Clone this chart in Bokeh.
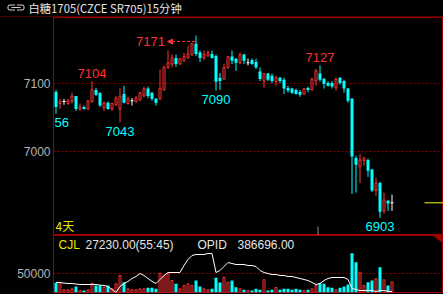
from bokeh.plotting import figure
from bokeh.layouts import column
from bokeh.models import Range1d, FixedTicker, NumeralTickFormatter, Arrow, NormalHead
from bokeh.core.properties import value
from bokeh.embed import file_html
from bokeh.resources import INLINE

# ---------------- data ----------------
title_text = "白糖1705(CZCE SR705)15分钟"
period_label = "4天"
vol_name = "CJL"
vol_reading = "27230.00(55:45)"
oi_name = "OPID"
oi_reading = "386696.00"
price_ticks = [7000, 7100]
vol_ticks = [50000]

open_ = [7088, 7071, 7074, 7071, 7074, 7082, 7062, 7066, 7063, 7074,
         7091, 7087, 7065, 7072, 7063, 7069, 7063, 7085, 7071, 7075,
         7074, 7076, 7082, 7093, 7087, 7078, 7078, 7091, 7124, 7129,
         7138, 7129, 7134, 7138, 7143, 7159, 7146, 7138, 7141, 7144,
         7141, 7109, 7107, 7124, 7140, 7137, 7131, 7143, 7131, 7135,
         7132, 7118, 7104, 7115, 7112, 7103, 7109, 7106, 7094, 7093,
         7091, 7088, 7085, 7094, 7091, 7104, 7115, 7107, 7101, 7101,
         7094, 7109, 7104, 7093, 7078, 6991, 6978, 6987, 6988, 6974,
         6943, 6954, 6913, 6928, 6925]
high = [7091, 7078, 7078, 7078, 7087, 7082, 7071, 7068, 7076, 7104,
        7094, 7087, 7074, 7074, 7072, 7082, 7094, 7097, 7081, 7079,
        7082, 7088, 7096, 7096, 7088, 7079, 7121, 7127, 7149, 7143,
        7143, 7138, 7146, 7156, 7160, 7171, 7149, 7149, 7149, 7149,
        7143, 7116, 7129, 7141, 7149, 7138, 7146, 7144, 7137, 7137,
        7137, 7124, 7116, 7116, 7115, 7112, 7110, 7109, 7097, 7094,
        7093, 7091, 7094, 7096, 7109, 7122, 7127, 7109, 7104, 7104,
        7109, 7110, 7106, 7094, 7079, 6994, 6997, 6993, 6990, 6975,
        6962, 6956, 6940, 6929, 6937]
low = [7056, 7063, 7069, 7069, 7071, 7060, 7060, 7062, 7062, 7072,
       7082, 7066, 7060, 7062, 7060, 7068, 7043, 7071, 7069, 7068,
       7072, 7075, 7081, 7079, 7075, 7068, 7076, 7090, 7122, 7124,
       7125, 7128, 7132, 7137, 7141, 7141, 7132, 7135, 7140, 7137,
       7090, 7091, 7106, 7122, 7129, 7119, 7129, 7129, 7127, 7128,
       7122, 7104, 7094, 7104, 7101, 7097, 7101, 7085, 7087, 7085,
       7084, 7081, 7084, 7088, 7090, 7097, 7103, 7093, 7096, 7093,
       7090, 7099, 7087, 7072, 6938, 6940, 6954, 6979, 6963, 6941,
       6935, 6903, 6909, 6913, 6913]
close = [7066, 7074, 7074, 7075, 7082, 7063, 7066, 7063, 7075, 7091,
         7084, 7068, 7072, 7063, 7071, 7079, 7082, 7072, 7078, 7075,
         7079, 7087, 7093, 7082, 7078, 7072, 7093, 7124, 7131, 7138,
         7129, 7137, 7140, 7144, 7159, 7144, 7138, 7143, 7146, 7138,
         7103, 7104, 7124, 7140, 7134, 7131, 7143, 7134, 7131, 7129,
         7124, 7107, 7115, 7106, 7104, 7109, 7104, 7093, 7090, 7087,
         7085, 7084, 7093, 7091, 7107, 7119, 7106, 7100, 7097, 7096,
         7107, 7101, 7093, 7075, 6993, 6981, 6988, 6990, 6972, 6943,
         6954, 6912, 6929, 6924, 6925]
volume = [24900, 22300, 6900, 6900, 9500, 15400, 5100, 5100, 6900, 23800,
          17900, 17900, 13600, 17900, 9500, 22300, 43600, 26400, 9500, 6900,
          6900, 9500, 9500, 12100, 12100, 9500, 49500, 43600, 48000, 30800,
          22300, 9500, 17900, 22300, 17900, 30800, 15400, 9500, 6900, 9500,
          37700, 25600, 39200, 26400, 30800, 13600, 9500, 6900, 5100, 5100,
          9500, 6900, 32600, 5100, 6900, 12800, 6900, 9500, 9500, 6900,
          9500, 6900, 5100, 6900, 9500, 17900, 23800, 22300, 13600, 12100,
          6900, 12100, 15400, 20500, 100800, 77700, 52000, 17900, 26400, 30800,
          35100, 64900, 32600, 17900, 27230]
open_interest = [391200, 391200, 390900, 390700, 390700, 390400, 390200, 390200, 390200, 390200,
                 390200, 389900, 389700, 389200, 387700, 386200, 389200, 390700, 391700, 393200,
                 394200, 395700, 394700, 393200, 391700, 390700, 392700, 394700, 396200, 396200,
                 396200, 396200, 399700, 402700, 404700, 405200, 405200, 405200, 405700, 405700,
                 396200, 397200, 399200, 401200, 400700, 400200, 400200, 400200, 399700, 399700,
                 399200, 397200, 396200, 395700, 395200, 395200, 394700, 394700, 394200, 394200,
                 393700, 393200, 392700, 392200, 391200, 390200, 390700, 392200, 393200, 393700,
                 393700, 393700, 393700, 392700, 388200, 387700, 387200, 387200, 387200, 387200,
                 386700, 387200, 387200, 386700, 386696]
marked_highs = [10, 36, 67]
marked_lows = [1, 17, 41, 82]
session_break = 66.5

# ---------------- style ----------------
BG = "#000000"
UP = "#ff3232"
DN = "#00ffff"
DJ = "#ffffff"
FRAME = "#a00000"
GRID = "#900000"
AXIS_TXT = "#b4b4b4"
TXT = "#e6e6e6"
YEL = "#e8e800"
FONT = value("Liberation Sans")
CJK = value("Noto Sans CJK SC")

W = 443
LEFT = 53
STEP = 4.0
X0 = 0.375
X1 = X0 + (W - LEFT) / STEP
DIGIT_W = 7.2  # approx px per digit at 13px

n = len(close)
idx = list(range(1, n + 1))


def no_align(fig):
    if hasattr(fig, "frame_align"):
        fig.frame_align = False


# ---------------- title bar ----------------
t = figure(width=W, height=17, x_range=Range1d(0, W), y_range=Range1d(17, 0),
           min_border=0, min_border_left=0, min_border_right=0, min_border_top=0, min_border_bottom=0,
           toolbar_location=None, output_backend="svg",
           background_fill_color=BG, border_fill_color=BG, outline_line_color=None,
           x_axis_location=None, y_axis_location=None)
no_align(t)
t.grid.visible = False
t.segment(x0=[0], y0=[16.5], x1=[W], y1=[16.5], line_color=FRAME, line_width=1)
t.multi_line(xs=[[14.5, 8.5, 7.5, 7.5, 8.5, 14.5], [16.5, 22.5, 23.5, 23.5, 22.5, 16.5], [11, 20]],
             ys=[[4.5, 4.5, 5.5, 8.5, 9.5, 9.5], [4.5, 4.5, 5.5, 8.5, 9.5, 9.5], [7, 7]],
             line_color="#d0d0d0", line_width=1)
t.text(x=[28], y=[7], text=[title_text], text_font=CJK, text_font_size="11.3px",
       text_color=TXT, text_baseline="middle", text_align="left")

# ---------------- price panel ----------------
MAIN_H = 218
Y0, Y1 = 6876.9, 7197.5
ppx = (Y1 - Y0) / MAIN_H  # price per pixel

p = figure(width=W, height=MAIN_H, x_range=Range1d(X0, X1), y_range=Range1d(Y0, Y1),
           min_border_left=LEFT, min_border_right=0, min_border_top=0, min_border_bottom=0,
           toolbar_location=None, output_backend="svg",
           background_fill_color=BG, border_fill_color=BG,
           outline_line_color=FRAME, outline_line_width=1,
           x_axis_location=None, y_axis_location="left")
no_align(p)
p.xgrid.visible = False
p.yaxis.ticker = FixedTicker(ticks=price_ticks)
p.yaxis.axis_line_color = None
p.yaxis.major_tick_line_color = None
p.yaxis.minor_tick_line_color = None
p.yaxis.major_tick_out = 0
p.yaxis.major_label_standoff = 3
p.yaxis.major_label_text_color = AXIS_TXT
p.yaxis.major_label_text_font = "Liberation Sans"
p.yaxis.major_label_text_font_size = "12px"
p.ygrid.grid_line_color = GRID
p.ygrid.grid_line_dash = "2 2"
p.ygrid.grid_line_width = 1

kind = ["up" if c > o else ("dn" if c < o else "dj") for o, c in zip(open_, close)]
wick_col = [UP if k == "up" else (DN if k == "dn" else DJ) for k in kind]
p.segment(x0=idx, y0=high, x1=idx, y1=low, line_color=wick_col, line_width=1)

dn_i = [i for i, k in zip(idx, kind) if k == "dn"]
p.vbar(x=dn_i, width=0.75, top=[open_[i - 1] for i in dn_i], bottom=[close[i - 1] for i in dn_i],
       fill_color=DN, line_color=None)
up_i = [i for i, k in zip(idx, kind) if k == "up"]
p.vbar(x=up_i, width=0.5, top=[close[i - 1] for i in up_i], bottom=[open_[i - 1] for i in up_i],
       fill_color=BG, line_color=UP, line_width=1)
dj_i = [i for i, k in zip(idx, kind) if k == "dj"]
p.segment(x0=[i - 0.375 for i in dj_i], x1=[i + 0.375 for i in dj_i],
          y0=[close[i - 1] for i in dj_i], y1=[close[i - 1] for i in dj_i], line_color=DJ, line_width=1)

# extreme labels (a label running past the left frame edge shows only its visible digits)
top_bar = max(marked_highs, key=lambda i: high[i - 1])
hi_plain = [i for i in marked_highs if i != top_bar]
p.text(x=hi_plain, y=[high[i - 1] for i in hi_plain], text=[str(high[i - 1]) for i in hi_plain],
       text_font=FONT, text_font_size="13px", text_color=UP, text_align="center",
       text_baseline="middle", y_offset=-8)
for i in marked_lows:
    s = str(low[i - 1])
    left_px = (i - X0) * STEP - len(s) * DIGIT_W / 2
    if left_px < 0:
        hidden = int(-left_px // DIGIT_W) + 1
        p.text(x=[X0], y=[low[i - 1]], text=[s[hidden:]], text_font=FONT, text_font_size="13px",
               text_color=DN, text_align="left", text_baseline="middle", x_offset=1, y_offset=9)
    else:
        p.text(x=[i], y=[low[i - 1]], text=[s], text_font=FONT, text_font_size="13px",
               text_color=DN, text_align="center", text_baseline="middle", y_offset=9)
top_val = high[top_bar - 1]
p.text(x=[top_bar], y=[top_val], text=[str(top_val)], text_font=FONT, text_font_size="13px",
       text_color=UP, text_align="right", text_baseline="middle", x_offset=-31, y_offset=6)
ya = top_val - 6 * ppx
p.add_layout(Arrow(end=NormalHead(size=5, fill_color=UP, line_color=UP, line_width=1),
                   x_start=top_bar - 0.25, y_start=ya, x_end=top_bar - 7.125, y_end=ya,
                   line_color=UP, line_width=1, line_dash="3 2"))

# last price marker and session break
p.segment(x0=[X1 - 19 / STEP], x1=[X1], y0=[close[-1]], y1=[close[-1]], line_color="#ffff00", line_width=1)
p.segment(x0=[session_break], x1=[session_break], y0=[Y0], y1=[Y0 + 9 * ppx], line_color="#909090", line_width=1)

p.text(x=[X0], y=[Y0], text=[period_label], text_font=CJK, text_font_size="12px",
       text_color=YEL, text_align="left", text_baseline="middle", x_offset=2, y_offset=-10)

# ---------------- volume panel ----------------
VOL_H = 59
VTOP = 146154
vpx = VTOP / 57.0
v = figure(width=W, height=VOL_H, x_range=p.x_range, y_range=Range1d(0, VTOP),
           min_border_left=LEFT, min_border_right=0, min_border_top=0, min_border_bottom=2,
           toolbar_location=None, output_backend="svg",
           background_fill_color=BG, border_fill_color=BG,
           outline_line_color=FRAME, outline_line_width=1,
           x_axis_location=None, y_axis_location="left")
no_align(v)
v.extra_y_ranges = {"oi": Range1d(386196, 414696)}
v.xgrid.visible = False
v.yaxis.ticker = FixedTicker(ticks=vol_ticks)
v.yaxis.formatter = NumeralTickFormatter(format="0")
v.yaxis.axis_line_color = None
v.yaxis.major_tick_line_color = None
v.yaxis.minor_tick_line_color = None
v.yaxis.major_tick_out = 0
v.yaxis.major_label_standoff = 3
v.yaxis.major_label_text_color = AXIS_TXT
v.yaxis.major_label_text_font = "Liberation Sans"
v.yaxis.major_label_text_font_size = "12px"
v.ygrid.grid_line_color = GRID
v.ygrid.grid_line_dash = "2 2"

vdn = [i for i in idx if close[i - 1] < open_[i - 1]]
vup = [i for i in idx if close[i - 1] >= open_[i - 1]]
v.vbar(x=vdn, width=0.75, top=[volume[i - 1] for i in vdn], bottom=0, fill_color=DN, line_color=None)
v.vbar(x=vup, width=0.5, top=[volume[i - 1] for i in vup], bottom=0, fill_color=BG, line_color=UP, line_width=1)
v.line(x=idx, y=open_interest, y_range_name="oi", line_color="#ffffff", line_width=1)

v.patch(x=[X1 - 10 / STEP, X1, X1], y=[VTOP, VTOP, VTOP - 8 * vpx], fill_color=FRAME, line_color=FRAME)

for txt, off, col in [(vol_name, 5, YEL), (vol_reading, 32, TXT), (oi_name, 144, TXT), (oi_reading, 184, TXT)]:
    v.text(x=[X0], y=[VTOP], text=[txt], text_font=FONT, text_font_size="12px", text_color=col,
           text_align="left", text_baseline="middle", x_offset=off, y_offset=9)

layout = column(t, p, v, spacing=0, styles={"background-color": BG})
open("out.html", "w").write(file_html(layout, INLINE))
